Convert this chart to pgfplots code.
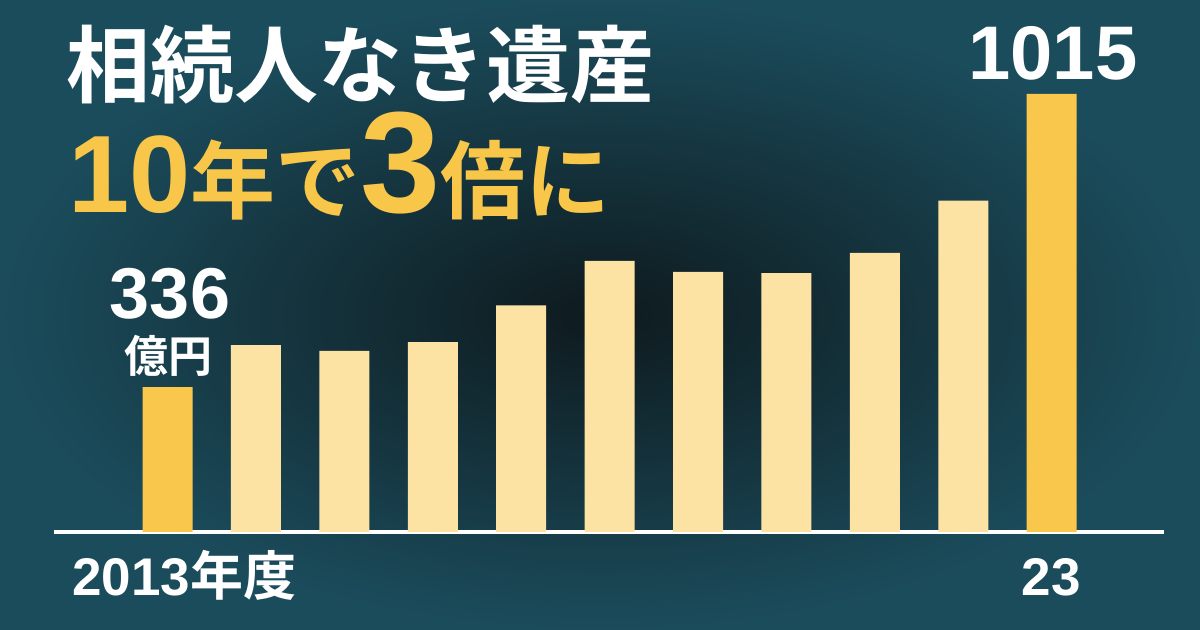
\documentclass[border=0pt]{standalone}
\usepackage{pgfplots}
\pgfplotsset{compat=1.18}
\usepackage{fontspec}
\setmainfont{Liberation Sans}
\newfontfamily\jp{Noto Sans CJK JP}[BoldFont={Noto Sans CJK JP Bold}]

\definecolor{bgedge}{HTML}{1B4C5C}
\definecolor{bgmid}{HTML}{0E1A1E}
\definecolor{barhi}{HTML}{F9C74B}
\definecolor{barlo}{HTML}{FDE3A3}
\definecolor{titley}{HTML}{F8C648}

% 1 px of the reference = 0.5bp
\begin{document}
\begin{tikzpicture}
\useasboundingbox (0,0) rectangle (600bp,315bp);
\shade[inner color=bgmid, outer color=bgedge] (0,0) rectangle (600bp,315bp);

\begin{axis}[
    at={(27bp,49bp)}, anchor=south west,
    scale only axis,
    width=555bp, height=219bp,
    xmin=-1.284, xmax=11.27,
    ymin=0, ymax=1015,
    axis y line=none,
    axis x line*=bottom,
    axis line style={white, line width=2bp, -},
    xtick=\empty, ytick=\empty,
    ybar, bar width=25bp, bar shift=0pt,
    clip=false,
]
% 2013 and 2023
\addplot[draw=none, fill=barhi] coordinates {(0,336) (10,1015)};
% 2014 -- 2022
\addplot[draw=none, fill=barlo] coordinates {
    (1,433) (2,420) (3,440) (4,525) (5,628)
    (6,603) (7,600) (8,647) (9,768)};
\end{axis}

% title
\node[anchor=west, inner sep=0pt, text=white, font=\jp\bfseries\fontsize{42bp}{42bp}\selectfont]
    at (33bp,282.5bp) {相続人なき遺産};
\node[anchor=base west, inner sep=0pt, text=titley]
    at (34bp,208.5bp) {\bfseries\fontsize{55bp}{55bp}\selectfont 10%
    {\jp\bfseries\fontsize{42.5bp}{42.5bp}\selectfont 年で}%
    \fontsize{72bp}{72bp}\selectfont 3%
    {\jp\bfseries\fontsize{42.5bp}{42.5bp}\selectfont 倍に}};

% value labels
\node[anchor=base, inner sep=0pt, text=white, font=\bfseries\fontsize{36bp}{36bp}\selectfont]
    at (85bp,155.5bp) {336};
\node[anchor=center, inner sep=0pt, text=white, font=\jp\bfseries\fontsize{22bp}{22bp}\selectfont]
    at (84bp,137bp) {億円};
\node[anchor=base, inner sep=0pt, text=white, font=\bfseries\fontsize{38bp}{38bp}\selectfont]
    at (526.5bp,275bp) {1015};

% year labels
\node[anchor=base west, inner sep=0pt, text=white, font=\bfseries\fontsize{26.5bp}{26.5bp}\selectfont]
    at (36bp,17.5bp) {2013{\jp\bfseries 年度}};
\node[anchor=base, inner sep=0pt, text=white, font=\bfseries\fontsize{26.5bp}{26.5bp}\selectfont]
    at (525.5bp,17.5bp) {23};
\end{tikzpicture}
\end{document}
